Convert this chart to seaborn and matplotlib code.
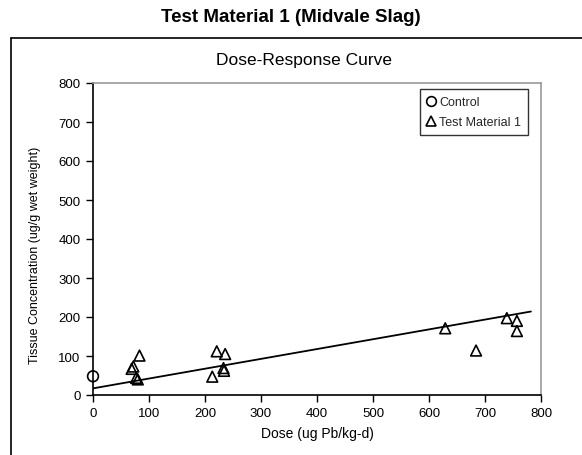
import numpy as np
import pandas as pd
import matplotlib
matplotlib.use("Agg")
import matplotlib.pyplot as plt
import seaborn as sns
from matplotlib.lines import Line2D

sns.set_theme(style="white")
plt.rcParams['font.family'] = ['Liberation Sans', 'DejaVu Sans']

control_dose = [0]
control_conc = [48]
test_dose = [69, 72, 83, 77, 80, 213, 221, 236, 233, 234, 629, 684, 739, 757, 757]
test_conc = [67, 73, 101, 44, 40, 47, 112, 105, 69, 62, 171, 114, 197, 190, 164]
trend_dose = [0, 782]
trend_intercept = 17.0
trend_slope = 0.252
x_ticks = [0, 100, 200, 300, 400, 500, 600, 700, 800]
y_ticks = [0, 100, 200, 300, 400, 500, 600, 700, 800]

df = pd.DataFrame({
    "dose": control_dose + test_dose,
    "conc": control_conc + test_conc,
    "group": ["Control"] * len(control_dose) + ["Test Material 1"] * len(test_dose),
})
trend_df = pd.DataFrame({"dose": trend_dose,
                         "conc": [trend_intercept + trend_slope * d for d in trend_dose]})

W, H = 582, 456
fig = plt.figure(figsize=(W / 100, H / 100), dpi=100)
ax = fig.add_axes([93 / W, 1 - 396 / H, (541 - 93) / W, (396 - 84) / H])

sns.lineplot(data=trend_df, x="dose", y="conc", color="black", lw=1.3, ax=ax, zorder=2)
sns.scatterplot(data=df, x="dose", y="conc", style="group",
                markers={"Control": "o", "Test Material 1": "^"},
                facecolor="none", edgecolor="black", linewidth=1.2, s=60,
                ax=ax, legend=False, zorder=3, clip_on=False)

ax.set_xlim(0, 800)
ax.set_ylim(0, 800)
ax.set_xticks(x_ticks)
ax.set_yticks(y_ticks)
ax.tick_params(axis="both", labelsize=9.5, direction="out", length=5, width=1,
               color="black", labelcolor="black", pad=4,
               bottom=True, left=True)
for s in ["top", "right"]:
    ax.spines[s].set_color("#999999")
    ax.spines[s].set_linewidth(1.2)
for s in ["left", "bottom"]:
    ax.spines[s].set_color("black")
    ax.spines[s].set_linewidth(1.2)
ax.set_xlabel("Dose (ug Pb/kg-d)", fontsize=10, color="black", labelpad=5)
ax.set_ylabel("Tissue Concentration (ug/g wet weight)", fontsize=9, color="black")
ax.yaxis.set_label_coords(-(93 - 41) / (541 - 93), 0.45)
ax.grid(False)

handles = [
    Line2D([], [], marker="o", ls="none", mfc="none", mec="black", mew=1.2, ms=7),
    Line2D([], [], marker="^", ls="none", mfc="none", mec="black", mew=1.2, ms=7),
]
leg = ax.legend(handles, ["Control", "Test Material 1"], loc="upper right",
                bbox_to_anchor=(528 / W, 1 - 90 / H), bbox_transform=fig.transFigure,
                fontsize=9, frameon=True, fancybox=False, handlelength=0.6,
                handletextpad=0.35, borderpad=0.55, labelspacing=0.65,
                borderaxespad=0)
leg.get_frame().set_edgecolor("black")
leg.get_frame().set_linewidth(1.0)

# outer chart frame (left and top edges visible)
fig.add_artist(Line2D([11 / W, 11 / W], [0, 1 - 39 / H], color="black", lw=1.2,
                      transform=fig.transFigure))
fig.add_artist(Line2D([11 / W, 1], [1 - 39 / H, 1 - 39 / H], color="black", lw=1.2,
                      transform=fig.transFigure))

fig.text(0.5, 1 - 18 / H, "Test Material 1 (Midvale Slag)", ha="center", va="center",
         fontsize=13.5, fontweight="bold", color="black")
fig.text(304 / W, 1 - 61 / H, "Dose-Response Curve", ha="center", va="center",
         fontsize=12.5, color="black")

fig.savefig("out.png", dpi=100, facecolor="white")
